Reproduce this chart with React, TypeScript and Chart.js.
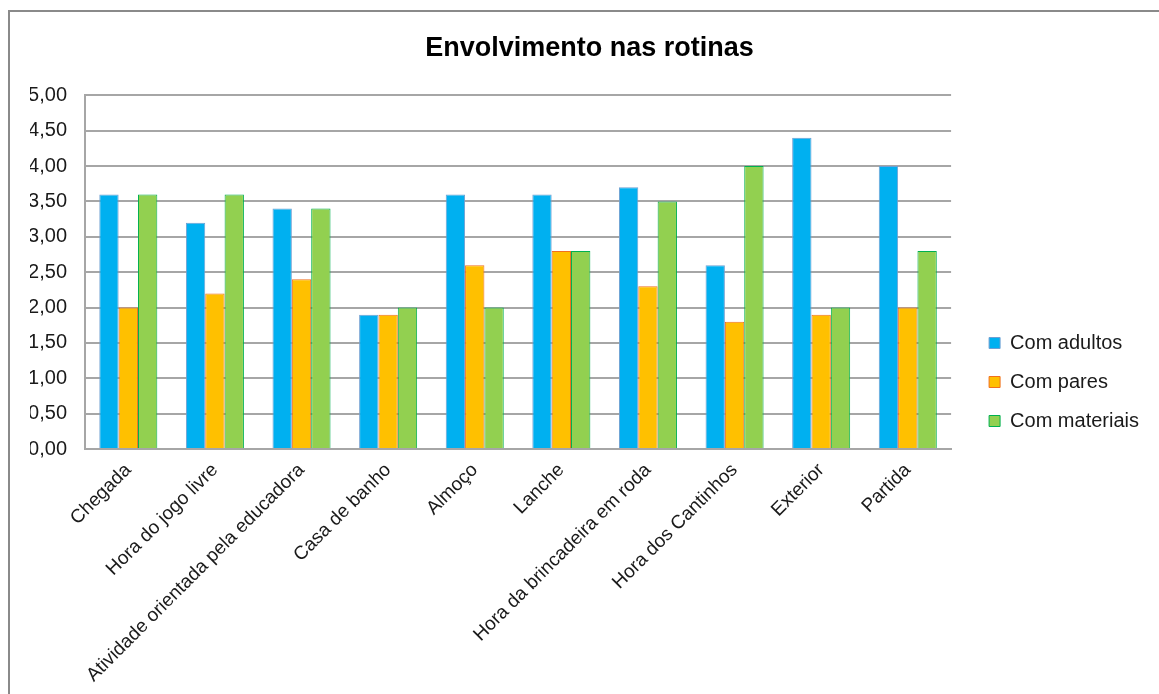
import React, { useEffect, useRef } from "react";
import { Chart, registerables } from "chart.js";

Chart.register(...registerables);

const categories = [
  "Chegada",
  "Hora do jogo livre",
  "Atividade orientada pela educadora",
  "Casa de banho",
  "Almoço",
  "Lanche",
  "Hora da brincadeira em roda",
  "Hora dos Cantinhos",
  "Exterior",
  "Partida",
];
const comAdultos = [3.6, 3.2, 3.4, 1.9, 3.6, 3.6, 3.7, 2.6, 4.4, 4.0];
const comPares = [2.0, 2.2, 2.4, 1.9, 2.6, 2.8, 2.3, 1.8, 1.9, 2.0];
const comMateriais = [3.6, 3.6, 3.4, 2.0, 2.0, 2.8, 3.5, 4.0, 2.0, 2.8];
const seriesNames = ["Com adultos", "Com pares", "Com materiais"];
const titleText = "Envolvimento nas rotinas";

const FONT = "'Liberation Sans', Arial, sans-serif";
const GRID = "#a6a6a6";

export default function App() {
  const ref = useRef<HTMLCanvasElement | null>(null);

  useEffect(() => {
    if (!ref.current) return;
    const chart = new Chart(ref.current, {
      type: "bar",
      data: {
        labels: categories,
        datasets: [
          {
            label: seriesNames[0],
            data: comAdultos,
            backgroundColor: "#00B0F0",
            borderColor: "#6F9FD2",
            borderWidth: 1,
          },
          {
            label: seriesNames[1],
            data: comPares,
            backgroundColor: "#FFC000",
            borderColor: "#F07020",
            borderWidth: 1,
          },
          {
            label: seriesNames[2],
            data: comMateriais,
            backgroundColor: "#92D050",
            borderColor: "#00B050",
            borderWidth: 1,
          },
        ],
      },
      options: {
        responsive: false,
        animation: false,
        layout: { padding: { left: 20, right: 21, top: 0, bottom: 20 } },
        datasets: {
          bar: { categoryPercentage: 0.67, barPercentage: 1.0 },
        },
        plugins: {
          title: {
            display: true,
            text: titleText,
            color: "#000",
            font: { family: FONT, size: 27, weight: "bold" },
            padding: { top: 20, bottom: 31 },
          },
          legend: {
            display: true,
            position: "right",
            labels: {
              boxWidth: 11,
              boxHeight: 11,
              padding: 19,
              color: "#1a1a1a",
              font: { family: FONT, size: 20 },
            },
          },
          tooltip: { enabled: false },
        },
        scales: {
          x: {
            grid: { display: false, drawTicks: false },
            border: { display: true, color: GRID, width: 2 },
            ticks: {
              autoSkip: false,
              minRotation: 45,
              maxRotation: 45,
              padding: 10,
              color: "#1a1a1a",
              font: { family: FONT, size: 19 },
            },
            afterFit: (s: any) => {
              s.height = 303;
            },
          },
          y: {
            min: 0,
            max: 5,
            grid: { color: GRID, lineWidth: 2, drawTicks: false },
            border: { display: true, color: GRID, width: 2 },
            ticks: {
              stepSize: 0.5,
              padding: 18,
              color: "#1a1a1a",
              font: { family: FONT, size: 20 },
              callback: (v: any) => Number(v).toFixed(2).replace(".", ","),
            },
            afterFit: (s: any) => {
              s.width = 55;
            },
          },
          ySpacer: {
            type: "linear",
            position: "right",
            display: true,
            grid: { display: false, drawTicks: false },
            border: { display: false },
            ticks: { display: false },
            afterFit: (s: any) => {
              s.width = 19;
            },
          },
        },
      } as any,
    });
    return () => {
      chart.destroy();
    };
  }, []);

  return (
    <div
      style={{
        position: "fixed",
        left: 8,
        top: 10,
        width: 1200,
        height: 800,
        border: "2px solid #8a8a8a",
        background: "#fff",
      }}
    >
      <canvas
        ref={ref}
        width={1160}
        height={760}
        style={{ position: "absolute", left: 0, top: 0, width: 1160, height: 760 }}
      />
    </div>
  );
}
